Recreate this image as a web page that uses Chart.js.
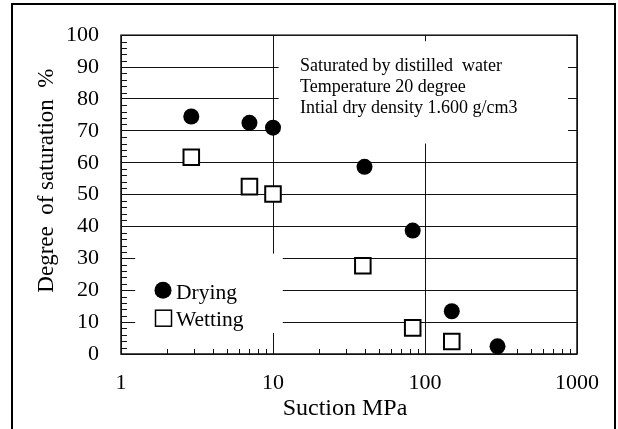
<!DOCTYPE html>
<html>
<head>
<meta charset="utf-8">
<script src="https://cdn.jsdelivr.net/npm/chart.js@4.4.0/dist/chart.umd.min.js"></script>
<style>
  html, body { margin: 0; padding: 0; background: #fff; }
  #wrap { position: relative; width: 618px; height: 429px; overflow: hidden; }
  #frame { position: absolute; left: 11px; top: 3px; width: 601px; height: 460px; border: 2px solid #000; border-bottom: none; pointer-events: none; }
  canvas { position: absolute; left: 0; top: 0; }
</style>
</head>
<body>
<div id="wrap">
  <canvas id="chart" width="618" height="429"></canvas>
  <div id="frame"></div>
</div>
<script>
// data
const dryingSuction = [2.9, 7, 10, 40, 83, 150, 300];
const dryingSaturation = [74.5, 72.5, 71, 58.7, 38.7, 13.4, 2.4];
const wettingSuction = [2.9, 7, 10, 39, 83, 150];
const wettingSaturation = [61.7, 52.5, 50.2, 27.7, 8.2, 3.9];
const xTicks = [1, 10, 100, 1000];
const seriesNames = ['Drying', 'Wetting'];
const noteLines = ['Saturated by distilled  water', 'Temperature 20 degree', 'Intial dry density 1.600 g/cm3'];
const xTitle = 'Suction MPa';
const yTitle = 'Degree  of saturation  %';

const FONT = "'Liberation Serif', 'Times New Roman', serif";

// white boxes behind the note and the legend (in data units)
const masks = [
  { x0: 10.9, x1: 873, y0: 66, y1: 100 },
  { x0: 1.24, x1: 11.6, y0: 6.6, y1: 31.5 }
];

function toPoints(xs, ys) {
  return xs.map((v, i) => ({ x: v, y: ys[i] }));
}

const decor = {
  id: 'decor',
  beforeDatasetsDraw(chart) {
    const { ctx, chartArea: a, scales: { x, y } } = chart;
    ctx.save();

    // cover the grid where the text boxes sit
    ctx.fillStyle = '#fff';
    masks.forEach(m => {
      const l = x.getPixelForValue(m.x0), r = x.getPixelForValue(m.x1);
      const t = y.getPixelForValue(m.y1), b = y.getPixelForValue(m.y0);
      ctx.fillRect(l, t, r - l, b - t);
    });

    // plot frame
    ctx.strokeStyle = '#111';
    ctx.lineWidth = 1.5;
    ctx.strokeRect(a.left, a.top, a.width, a.height);

    // minor ticks, inside
    ctx.lineWidth = 1;
    ctx.beginPath();
    for (let v = 2; v < 100; v += 2) {
      if (v % 10 === 0) continue;
      const py = Math.round(y.getPixelForValue(v)) + 0.5;
      ctx.moveTo(a.left, py);
      ctx.lineTo(a.left + 6, py);
    }
    for (let d = 1; d < 1000; d *= 10) {
      for (let k = 2; k <= 9; k++) {
        const px = Math.round(x.getPixelForValue(d * k)) + 0.5;
        ctx.moveTo(px, a.bottom);
        ctx.lineTo(px, a.bottom - 5);
      }
    }
    [10, 100].forEach(v => {
      const px = Math.round(x.getPixelForValue(v)) + 0.5;
      ctx.moveTo(px, a.top);
      ctx.lineTo(px, a.top + 6);
    });
    ctx.stroke();

    // note text
    ctx.fillStyle = '#000';
    ctx.font = '18px ' + FONT;
    ctx.textAlign = 'left';
    ctx.textBaseline = 'alphabetic';
    noteLines.forEach((s, i) => {
      ctx.fillText(s, a.left + 179, a.top + 36 + i * 21);
    });

    // legend
    ctx.font = '21.5px ' + FONT;
    const lx = a.left + 42, ly = a.top + 255;
    ctx.beginPath();
    ctx.arc(lx, ly, 8.5, 0, Math.PI * 2);
    ctx.fill();
    ctx.fillText(chart.data.datasets[0].label, lx + 13, ly + 9);
    ctx.lineWidth = 1.5;
    ctx.strokeStyle = '#000';
    ctx.strokeRect(lx - 7.5, ly + 20, 16, 16);
    ctx.fillText(chart.data.datasets[1].label, lx + 13, ly + 36);

    ctx.restore();
  },
  afterDraw(chart) {
    const { ctx, chartArea: a } = chart;
    ctx.save();
    ctx.fillStyle = '#000';
    ctx.font = '24px ' + FONT;
    ctx.textAlign = 'center';
    ctx.textBaseline = 'alphabetic';
    ctx.fillText(xTitle, (a.left + a.right) / 2 - 4, a.bottom + 61);
    ctx.font = '23px ' + FONT;
    ctx.translate(53, (a.top + a.bottom) / 2 - 14);
    ctx.rotate(-Math.PI / 2);
    ctx.fillText(yTitle, 0, 0);
    ctx.restore();
  }
};

new Chart(document.getElementById('chart'), {
  type: 'scatter',
  data: {
    datasets: [
      {
        label: seriesNames[0],
        data: toPoints(dryingSuction, dryingSaturation),
        pointStyle: 'circle',
        pointRadius: 8,
        backgroundColor: '#000',
        borderColor: '#000',
        borderWidth: 0
      },
      {
        label: seriesNames[1],
        data: toPoints(wettingSuction, wettingSaturation),
        pointStyle: 'rect',
        pointRadius: 11,
        backgroundColor: '#fff',
        borderColor: '#000',
        borderWidth: 2
      }
    ]
  },
  options: {
    responsive: false,
    animation: false,
    events: [],
    layout: { padding: { top: 19, right: 41, left: 0, bottom: 0 } },
    plugins: {
      legend: { display: false },
      tooltip: { enabled: false }
    },
    scales: {
      x: {
        type: 'logarithmic',
        min: 1,
        max: 1000,
        afterBuildTicks: s => { s.ticks = xTicks.map(v => ({ value: v })); },
        afterFit: s => { s.height = 75; },
        ticks: {
          color: '#000',
          font: { family: FONT, size: 22 },
          padding: 16,
          maxRotation: 0,
          callback: v => String(v)
        },
        grid: { color: '#111', lineWidth: 1, drawTicks: false },
        border: { display: false }
      },
      y: {
        min: 0,
        max: 100,
        afterFit: s => { s.width = 121; },
        ticks: {
          stepSize: 10,
          color: '#000',
          font: { family: FONT, size: 22 },
          padding: 22
        },
        grid: { color: '#111', lineWidth: 1, drawTicks: false },
        border: { display: false }
      }
    }
  },
  plugins: [decor]
});
</script>
</body>
</html>
